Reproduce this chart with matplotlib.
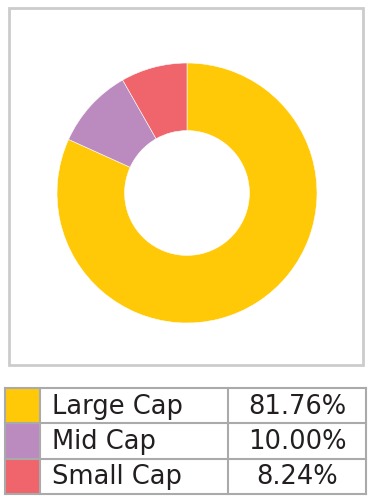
import matplotlib
matplotlib.use('Agg')
import matplotlib.pyplot as plt
from matplotlib.patches import Rectangle

# allocation by market cap
categories = ['Large Cap', 'Mid Cap', 'Small Cap']
values = [81.76, 10.00, 8.24]
colors = ['#FFC907', '#BB8BC0', '#F0656C']

W, H = 373, 497
fig = plt.figure(figsize=(W / 100, H / 100), dpi=100)

# background axes in pixel coordinates for the frame and the table
bg = fig.add_axes([0, 0, 1, 1])
bg.set_xlim(0, W)
bg.set_ylim(H, 0)
bg.axis('off')

# frame round the donut
bg.add_patch(Rectangle((9, 8), 354, 357, fill=False, edgecolor='#CCCCCC', linewidth=2))

# donut
cx, cy, r = 187, 193, 130
ax = fig.add_axes([(cx - r) / W, (H - cy - r) / H, 2 * r / W, 2 * r / H])
ax.pie(values, colors=colors, startangle=90, counterclock=False,
       wedgeprops=dict(width=0.52, edgecolor='white', linewidth=0.4))
ax.set_xlim(-1, 1)
ax.set_ylim(-1, 1)
ax.set_aspect('equal')
ax.axis('off')

# table
x0, x1, x2, x3 = 5, 40, 228, 366
top, rowh = 388, 35.3
grid = '#AAAAAA'
font = dict(fontsize=18.5, family='DejaVu Sans', color='#231F20', va='center')
for i, (cat, val, col) in enumerate(zip(categories, values, colors)):
    y = top + i * rowh
    bg.add_patch(Rectangle((x0, y), x1 - x0, rowh, facecolor=col, edgecolor='none'))
    bg.text(x1 + 12, y + rowh / 2 + 1, cat, ha='left', **font)
    bg.text((x2 + x3) / 2, y + rowh / 2 + 1, f'{val:.2f}%', ha='center', **font)

lw = 1.5
for i in range(4):
    y = top + i * rowh
    bg.plot([x0, x3], [y, y], color=grid, lw=lw, solid_capstyle='projecting')
for x in (x0, x1, x2, x3):
    bg.plot([x, x], [top, top + 3 * rowh], color=grid, lw=lw, solid_capstyle='projecting')

fig.savefig('out.png', dpi=100)
